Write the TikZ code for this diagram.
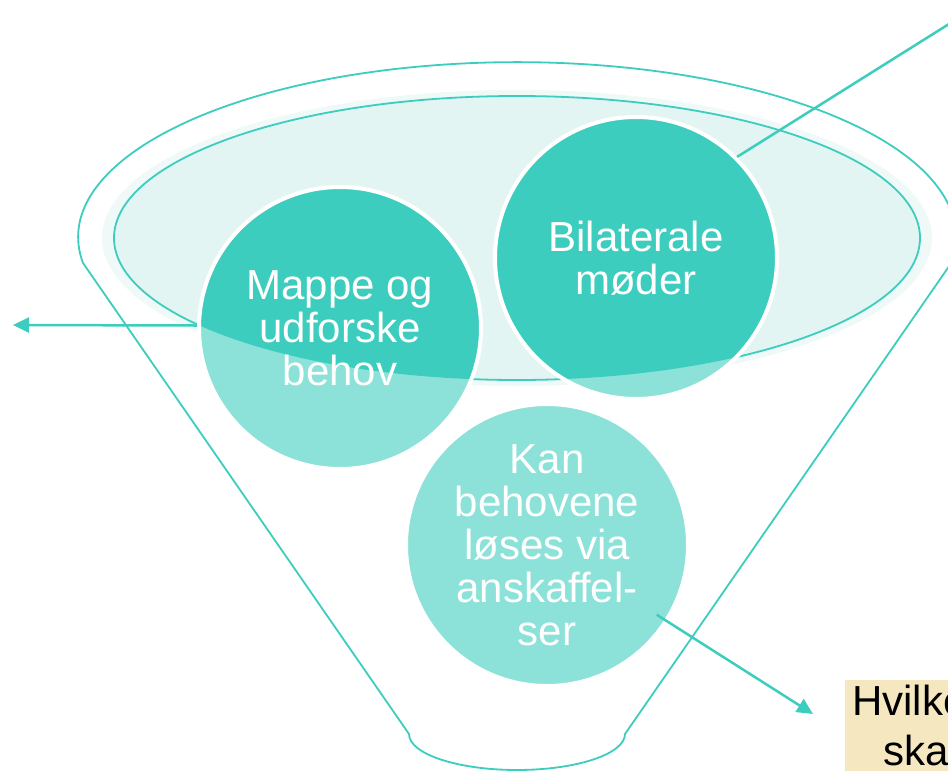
\documentclass[tikz,border=0pt]{standalone}
\usepackage{fontspec}
\setmainfont{Liberation Sans}
\usetikzlibrary{positioning,arrows.meta,calc}

\definecolor{tealdark}{HTML}{3CCDBE}
\definecolor{teallight}{HTML}{8CE2D8}
\definecolor{rimfill}{HTML}{E3F5F3}
\definecolor{rimglow}{HTML}{EEF9F8}
\definecolor{notefill}{HTML}{F5E8C1}

\begin{document}
\begin{tikzpicture}[x=1pt,y=-1pt]
		\tikzset{stagestyle/.style={circle,fill=teallight,draw=white,line width=4pt,minimum size=282pt,inner sep=0pt,
				align=center,text=white,font=\fontsize{42}{43}\selectfont,
				path picture={\fill[tealdark] (rimc) ellipse [x radius=403pt, y radius=142pt];}}}
		\tikzset{flowedge/.style={draw=tealdark,line width=2.5pt,-{Triangle[length=16pt,width=15pt]}}}
		\tikzset{funnelline/.style={draw=tealdark,line width=1.8pt}}
		\tikzset{notebox/.style={fill=notefill,align=left,text=black,inner xsep=7pt,inner ysep=5pt,
				font=\fontsize{42}{50}\selectfont}}
		
		\newcommand\drawStage[4] % {x} {y} {label} {name}
		{
			\node[stagestyle] at (#1, #2) (#4) {#3};
		}
		
		\useasboundingbox (0,0) rectangle (948,771);
		\clip (0,0) rectangle (948,771);
		
		\coordinate (rimc) at (517,238);
		
		% funnel outline
		\draw[funnelline] (83,263) arc[start angle=188.5, end angle=-8.5, x radius=439pt, y radius=175pt]
		-- (625,734) arc[start angle=0, end angle=-180, x radius=108pt, y radius=36pt] -- cycle;
		
		% rim of the funnel
		\fill[rimglow] (rimc) ellipse [x radius=415pt, y radius=148pt];
		\filldraw[fill=rimfill,funnelline] (rimc) ellipse [x radius=403pt, y radius=142pt];
		
		\drawStage{340}{328}{Mappe og\\udforske\\behov}{mappe}
		\drawStage{636}{258}{Bilaterale\\møder}{bilat}
		\drawStage{547}{545}{Kan\\behovene\\løses via\\anskaffel-\\ser}{kan}
		
		\node[notebox,anchor=north west] at (845,680) (note) {Hvilke\\\hspace*{31pt}skal\vphantom{g}};
		
		\coordinate (leftend) at (13,325);
		\coordinate (topend) at (1000,-8);
		\coordinate (notetip) at (813,714);
		
		\draw[flowedge] (mappe.179) to (leftend);
		\draw[flowedge,-] (bilat.45) to (topend);
		\draw[flowedge,shorten <=130pt] (kan.center) to (notetip);
		
\end{tikzpicture}
\end{document}
